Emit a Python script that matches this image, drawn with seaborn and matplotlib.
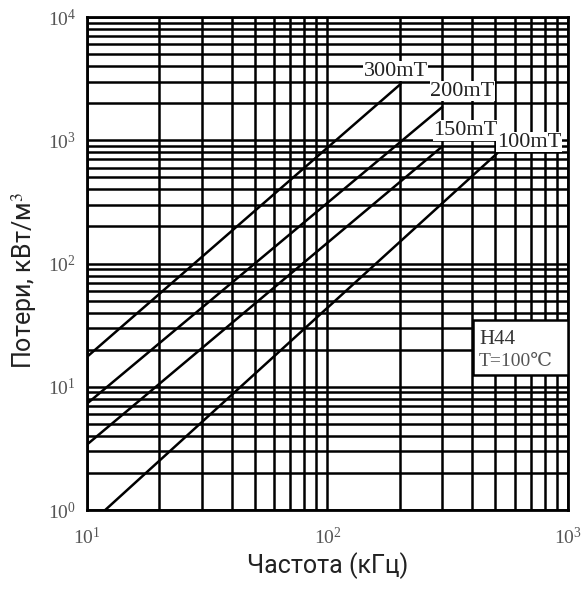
import numpy as np
import pandas as pd
import matplotlib
matplotlib.use("Agg")
import matplotlib.pyplot as plt
import seaborn as sns
from matplotlib.patches import Rectangle

# series end points (freq in kHz, loss in kW/m3)
labels = ["300mT", "200mT", "150mT", "100mT"]
freq_start = [10, 10, 10, 11.9]
freq_end = [201, 300, 300, 510]
loss_start = [17.5, 7.3, 3.4, 1.0]
loss_end = [2850, 1860, 890, 790]

# where the curve names sit
label_x = [192, 365, 376, 690]
label_y = [3640, 2500, 1205, 964]

rows = []
for name, f0, f1, p0, p1 in zip(labels, freq_start, freq_end, loss_start, loss_end):
    rows.append({"B": name, "f": f0, "P": p0})
    rows.append({"B": name, "f": f1, "P": p1})
df = pd.DataFrame(rows)

sns.set_style("white")
plt.rcParams["font.family"] = ["Liberation Serif", "DejaVu Serif"]
plt.rcParams["mathtext.fontset"] = "stix"

fig = plt.figure(figsize=(5.85, 5.89), dpi=100)
ax = fig.add_axes([0.1487, 0.134, 0.822, 0.837])

ax.set_xscale("log")
ax.set_yscale("log")
ax.set_xlim(10, 1000)
ax.set_ylim(1, 10000)

ax.grid(True, which="both", color="black", linewidth=1.8)
ax.set_axisbelow(True)

sns.lineplot(data=df, x="f", y="P", units="B", estimator=None,
             color="black", linewidth=1.8, ax=ax, legend=False)

for name, lx, ly in zip(labels, label_x, label_y):
    ax.text(lx, ly, name, fontsize=16, ha="center", va="center", color="#222222",
            bbox=dict(facecolor="white", edgecolor="none", pad=0.5), zorder=5)

# H44 box, flush with the right spine
ax.add_patch(Rectangle((0.802, 0.274), 0.198, 0.111, transform=ax.transAxes,
                       facecolor="white", edgecolor="black", linewidth=1.8, zorder=6))
ax.text(0.815, 0.346, "H44", transform=ax.transAxes, fontsize=15,
        color="#333333", ha="left", va="center", zorder=7)
ax.text(0.815, 0.302, "T=100\u2103", transform=ax.transAxes, fontsize=14,
        color="#555555", ha="left", va="center", zorder=7,
        family=["Liberation Serif", "DejaVu Serif"])

for s in ax.spines.values():
    s.set_color("black")
    s.set_linewidth(2)

ax.tick_params(which="both", length=0, labelsize=14, labelcolor="#555555")
ax.tick_params(axis="x", pad=12)
ax.tick_params(axis="y", pad=8)

ax.set_xlabel("Частота (кГц)", fontsize=18, family=["Roboto", "DejaVu Sans"],
              color="#222222")
ax.set_ylabel("Потери, кВт/м$^3$", fontsize=18, family=["Roboto", "DejaVu Sans"],
              color="#222222")
ax.xaxis.set_label_coords(0.5, -0.085)
ax.yaxis.set_label_coords(-0.1, 0.465)

fig.savefig("out.png", dpi=100)
